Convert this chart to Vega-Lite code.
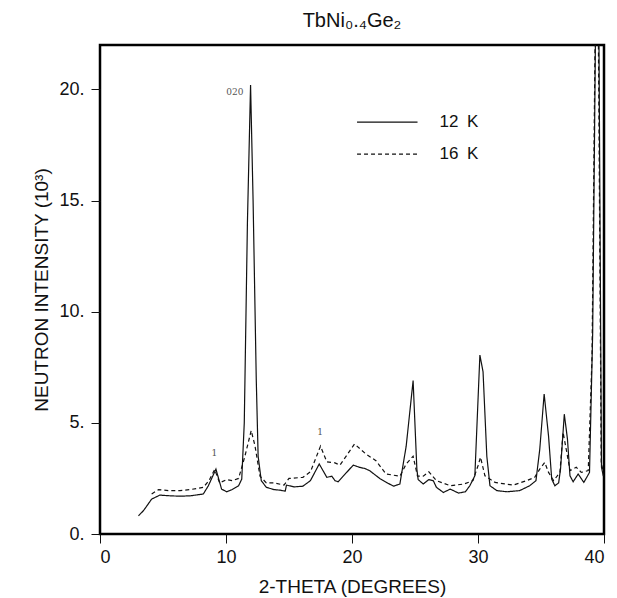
{
  "$schema": "https://vega.github.io/schema/vega-lite/v6.json",
  "width": 504,
  "height": 489,
  "autosize": {"type": "none"},
  "padding": {"left": 100, "top": 45, "right": 13, "bottom": 64},
  "title": {"text": "TbNi₀.₄Ge₂", "fontSize": 20, "font": "Liberation Sans", "fontWeight": "normal", "color": "#111", "offset": 14, "anchor": "middle"},
  "config": {
    "view": {"stroke": "#000", "strokeWidth": 2.5},
    "font": "Liberation Sans",
    "axis": {"labelFont": "Liberation Sans", "titleFont": "Liberation Sans", "labelColor": "#111", "titleColor": "#111", "tickColor": "#111", "titleFontWeight": "normal", "grid": false, "domain": false}
  },
  "datasets": {
    "curves": [
      {"s": "12 K", "x": 3.05, "y": 0.82}, {"s": "12 K", "x": 3.45, "y": 1.05}, {"s": "12 K", "x": 4.1, "y": 1.57}, {"s": "12 K", "x": 4.75, "y": 1.75},
      {"s": "12 K", "x": 5.5, "y": 1.72}, {"s": "12 K", "x": 6.35, "y": 1.7}, {"s": "12 K", "x": 7.2, "y": 1.72}, {"s": "12 K", "x": 8.2, "y": 1.8},
      {"s": "12 K", "x": 8.6, "y": 2.17}, {"s": "12 K", "x": 9.2, "y": 2.92}, {"s": "12 K", "x": 9.65, "y": 2.02}, {"s": "12 K", "x": 10.05, "y": 1.9},
      {"s": "12 K", "x": 10.5, "y": 2.0}, {"s": "12 K", "x": 11.0, "y": 2.17}, {"s": "12 K", "x": 11.25, "y": 2.47}, {"s": "12 K", "x": 11.45, "y": 5.0},
      {"s": "12 K", "x": 11.7, "y": 14.0}, {"s": "12 K", "x": 11.95, "y": 20.2}, {"s": "12 K", "x": 12.15, "y": 15.0}, {"s": "12 K", "x": 12.4, "y": 7.0},
      {"s": "12 K", "x": 12.55, "y": 3.5}, {"s": "12 K", "x": 12.8, "y": 2.4}, {"s": "12 K", "x": 13.2, "y": 2.1}, {"s": "12 K", "x": 13.8, "y": 2.0},
      {"s": "12 K", "x": 14.3, "y": 1.97}, {"s": "12 K", "x": 14.7, "y": 1.93}, {"s": "12 K", "x": 14.8, "y": 2.2}, {"s": "12 K", "x": 15.4, "y": 2.12},
      {"s": "12 K", "x": 16.1, "y": 2.15}, {"s": "12 K", "x": 16.7, "y": 2.4}, {"s": "12 K", "x": 17.4, "y": 3.15}, {"s": "12 K", "x": 18.0, "y": 2.55},
      {"s": "12 K", "x": 18.4, "y": 2.6}, {"s": "12 K", "x": 18.65, "y": 2.4}, {"s": "12 K", "x": 18.9, "y": 2.35}, {"s": "12 K", "x": 19.3, "y": 2.6},
      {"s": "12 K", "x": 20.1, "y": 3.1}, {"s": "12 K", "x": 20.6, "y": 3.0}, {"s": "12 K", "x": 21.0, "y": 2.95}, {"s": "12 K", "x": 21.4, "y": 2.85},
      {"s": "12 K", "x": 22.2, "y": 2.5}, {"s": "12 K", "x": 22.8, "y": 2.3}, {"s": "12 K", "x": 23.3, "y": 2.15}, {"s": "12 K", "x": 23.8, "y": 2.25},
      {"s": "12 K", "x": 24.3, "y": 3.95}, {"s": "12 K", "x": 24.85, "y": 6.9}, {"s": "12 K", "x": 25.15, "y": 2.9}, {"s": "12 K", "x": 25.25, "y": 2.45},
      {"s": "12 K", "x": 25.65, "y": 2.25}, {"s": "12 K", "x": 26.1, "y": 2.45}, {"s": "12 K", "x": 26.45, "y": 2.4}, {"s": "12 K", "x": 26.7, "y": 2.1},
      {"s": "12 K", "x": 27.25, "y": 1.87}, {"s": "12 K", "x": 27.8, "y": 2.02}, {"s": "12 K", "x": 28.45, "y": 1.84}, {"s": "12 K", "x": 29.0, "y": 1.9},
      {"s": "12 K", "x": 29.35, "y": 2.17}, {"s": "12 K", "x": 29.75, "y": 2.62}, {"s": "12 K", "x": 30.15, "y": 8.05}, {"s": "12 K", "x": 30.4, "y": 7.3},
      {"s": "12 K", "x": 30.7, "y": 3.5}, {"s": "12 K", "x": 30.95, "y": 2.17}, {"s": "12 K", "x": 31.5, "y": 1.95}, {"s": "12 K", "x": 32.3, "y": 1.9},
      {"s": "12 K", "x": 33.3, "y": 1.95}, {"s": "12 K", "x": 34.1, "y": 2.17}, {"s": "12 K", "x": 34.6, "y": 2.4}, {"s": "12 K", "x": 34.9, "y": 3.8},
      {"s": "12 K", "x": 35.25, "y": 6.3}, {"s": "12 K", "x": 35.6, "y": 4.4}, {"s": "12 K", "x": 35.85, "y": 2.47}, {"s": "12 K", "x": 36.1, "y": 2.17},
      {"s": "12 K", "x": 36.4, "y": 2.3}, {"s": "12 K", "x": 36.55, "y": 2.92}, {"s": "12 K", "x": 36.85, "y": 5.39}, {"s": "12 K", "x": 37.1, "y": 4.27},
      {"s": "12 K", "x": 37.3, "y": 2.62}, {"s": "12 K", "x": 37.55, "y": 2.35}, {"s": "12 K", "x": 37.95, "y": 2.7}, {"s": "12 K", "x": 38.4, "y": 2.32},
      {"s": "12 K", "x": 38.85, "y": 2.77}, {"s": "12 K", "x": 39.1, "y": 9.0}, {"s": "12 K", "x": 39.35, "y": 24.0}, {"s": "12 K", "x": 39.55, "y": 27.0},
      {"s": "12 K", "x": 39.8, "y": 3.0}, {"s": "12 K", "x": 39.95, "y": 2.6},
      {"s": "16 K", "x": 4.1, "y": 1.8}, {"s": "16 K", "x": 4.65, "y": 2.0}, {"s": "16 K", "x": 5.5, "y": 1.95}, {"s": "16 K", "x": 6.35, "y": 1.95},
      {"s": "16 K", "x": 7.2, "y": 2.0}, {"s": "16 K", "x": 8.2, "y": 2.1}, {"s": "16 K", "x": 8.65, "y": 2.4}, {"s": "16 K", "x": 9.1, "y": 2.9},
      {"s": "16 K", "x": 9.5, "y": 2.3}, {"s": "16 K", "x": 10.05, "y": 2.45}, {"s": "16 K", "x": 10.5, "y": 2.4}, {"s": "16 K", "x": 11.0, "y": 2.5},
      {"s": "16 K", "x": 11.5, "y": 3.5}, {"s": "16 K", "x": 12.0, "y": 4.65}, {"s": "16 K", "x": 12.3, "y": 3.97}, {"s": "16 K", "x": 12.7, "y": 2.6},
      {"s": "16 K", "x": 13.2, "y": 2.3}, {"s": "16 K", "x": 13.8, "y": 2.3}, {"s": "16 K", "x": 14.6, "y": 2.2}, {"s": "16 K", "x": 15.0, "y": 2.5},
      {"s": "16 K", "x": 16.1, "y": 2.55}, {"s": "16 K", "x": 16.7, "y": 2.8}, {"s": "16 K", "x": 17.5, "y": 3.95}, {"s": "16 K", "x": 18.0, "y": 3.25},
      {"s": "16 K", "x": 18.65, "y": 3.2}, {"s": "16 K", "x": 19.05, "y": 3.1}, {"s": "16 K", "x": 20.2, "y": 4.05}, {"s": "16 K", "x": 21.1, "y": 3.6},
      {"s": "16 K", "x": 21.9, "y": 3.3}, {"s": "16 K", "x": 22.7, "y": 2.7}, {"s": "16 K", "x": 23.8, "y": 2.6}, {"s": "16 K", "x": 24.3, "y": 3.15},
      {"s": "16 K", "x": 24.85, "y": 3.5}, {"s": "16 K", "x": 25.2, "y": 2.6}, {"s": "16 K", "x": 25.65, "y": 2.6}, {"s": "16 K", "x": 26.1, "y": 2.8},
      {"s": "16 K", "x": 26.7, "y": 2.4}, {"s": "16 K", "x": 27.8, "y": 2.17}, {"s": "16 K", "x": 28.9, "y": 2.25}, {"s": "16 K", "x": 29.6, "y": 2.4},
      {"s": "16 K", "x": 30.0, "y": 3.07}, {"s": "16 K", "x": 30.2, "y": 3.45}, {"s": "16 K", "x": 30.55, "y": 2.62}, {"s": "16 K", "x": 31.35, "y": 2.32},
      {"s": "16 K", "x": 32.8, "y": 2.2}, {"s": "16 K", "x": 33.85, "y": 2.4}, {"s": "16 K", "x": 34.5, "y": 2.55}, {"s": "16 K", "x": 34.9, "y": 2.92},
      {"s": "16 K", "x": 35.3, "y": 3.22}, {"s": "16 K", "x": 35.6, "y": 2.77}, {"s": "16 K", "x": 36.0, "y": 2.4}, {"s": "16 K", "x": 36.5, "y": 2.77},
      {"s": "16 K", "x": 36.75, "y": 4.57}, {"s": "16 K", "x": 37.05, "y": 3.67}, {"s": "16 K", "x": 37.3, "y": 2.85}, {"s": "16 K", "x": 37.8, "y": 3.0},
      {"s": "16 K", "x": 38.2, "y": 2.77}, {"s": "16 K", "x": 38.75, "y": 2.85}, {"s": "16 K", "x": 39.05, "y": 8.0}, {"s": "16 K", "x": 39.32, "y": 24.0},
      {"s": "16 K", "x": 39.5, "y": 27.0}, {"s": "16 K", "x": 39.78, "y": 3.2}, {"s": "16 K", "x": 39.95, "y": 2.8}
    ],
    "legend": [
      {"s": "12 K", "x": 20.4, "x2": 25.2, "y": 18.53, "label": "12\u2002K"},
      {"s": "16 K", "x": 20.4, "x2": 25.2, "y": 17.09, "label": "16\u2002K"}
    ],
    "peaks": [
      {"x": 10.7, "y": 19.9, "t": "020"},
      {"x": 9.07, "y": 3.64, "t": "1"},
      {"x": 17.46, "y": 4.57, "t": "1"}
    ]
  },
  "layer": [
    {
      "data": {"name": "curves"},
      "mark": {"type": "line", "color": "#111", "strokeWidth": 1.2, "clip": true},
      "encoding": {
        "x": {"field": "x", "type": "quantitative", "scale": {"domain": [0, 40], "nice": false, "zero": false},
          "axis": {"values": [0, 10, 20, 30, 40], "tickSize": 9, "labelPadding": 5, "labelFontSize": 18, "title": "2-THETA (DEGREES)", "titleFontSize": 19, "titlePadding": 11}},
        "y": {"field": "y", "type": "quantitative", "scale": {"domain": [0, 22], "nice": false},
          "axis": {"values": [0, 5, 10, 15, 20], "labelExpr": "datum.value + '.'", "tickSize": 9, "labelPadding": 7, "labelFontSize": 18, "title": "NEUTRON INTENSITY (10³)", "titleFontSize": 19, "titlePadding": 7}},
        "strokeDash": {"field": "s", "type": "nominal", "scale": {"domain": ["12 K", "16 K"], "range": [[1, 0], [4, 3]]}, "legend": null},
        "order": {"field": "x", "type": "quantitative"}
      }
    },
    {
      "data": {"name": "legend"},
      "mark": {"type": "rule", "color": "#111", "strokeWidth": 1.2},
      "encoding": {
        "x": {"field": "x", "type": "quantitative"},
        "x2": {"field": "x2"},
        "y": {"field": "y", "type": "quantitative"},
        "strokeDash": {"field": "s", "type": "nominal", "legend": null}
      }
    },
    {
      "data": {"name": "legend"},
      "mark": {"type": "text", "align": "left", "baseline": "middle", "fontSize": 17, "color": "#111", "dx": 22},
      "encoding": {
        "x": {"field": "x2", "type": "quantitative"},
        "y": {"field": "y", "type": "quantitative"},
        "text": {"field": "label"}
      }
    },
    {
      "data": {"name": "peaks"},
      "mark": {"type": "text", "align": "center", "baseline": "middle", "fontSize": 9, "font": "DejaVu Serif", "color": "#555"},
      "encoding": {
        "x": {"field": "x", "type": "quantitative"},
        "y": {"field": "y", "type": "quantitative"},
        "text": {"field": "t"}
      }
    }
  ]
}
